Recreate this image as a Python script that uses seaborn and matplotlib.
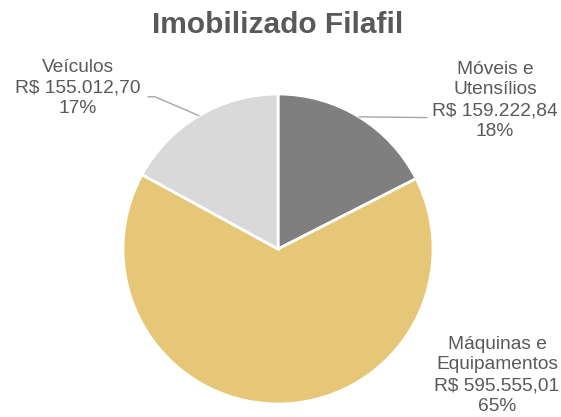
import numpy as np
import matplotlib
matplotlib.use("Agg")
import matplotlib.pyplot as plt
import seaborn as sns

# Imobilizado Filafil - valores em R$
categorias = ['Móveis e\nUtensílios', 'Máquinas e\nEquipamentos', 'Veículos']
valores = [159222.84, 595555.01, 155012.70]
valores_txt = ['R$ 159.222,84', 'R$ 595.555,01', 'R$ 155.012,70']
cores = ['#7f7f7f', '#e6c677', '#d9d9d9']

sns.set_style('white')
plt.rcParams['font.family'] = ['Liberation Sans', 'DejaVu Sans']
cinza = '#595959'

fig = plt.figure(figsize=(5.61, 4.17), dpi=100)
ax = fig.add_axes([0.2193, 0.0312, 0.5526, 0.7434])

wedges, _ = ax.pie(valores, colors=cores, startangle=90, counterclock=False,
                   wedgeprops=dict(edgecolor='white', linewidth=2))
ax.set_xlim(-1, 1)
ax.set_ylim(-1, 1)
ax.set_aspect('equal')
ax.axis('off')

total = sum(valores)
pct = [f"{round(v / total * 100):.0f}%" for v in valores]

# posicao dos rotulos (coord. do eixo, raio = 1)
pos_txt = [(1.40, 0.96), (1.413, -0.815), (-1.29, 1.039)]
for i, w in enumerate(wedges):
    txt = f"{categorias[i]}\n{valores_txt[i]}\n{pct[i]}"
    ax.text(pos_txt[i][0], pos_txt[i][1], txt, ha='center', va='center',
            fontsize=13.8, color=cinza, linespacing=1.28)

# linhas de chamada
def borda(w):
    ang = np.deg2rad((w.theta1 + w.theta2) / 2)
    return np.cos(ang), np.sin(ang)

x0, y0 = borda(wedges[0])
ax.plot([x0, 0.961], [y0, y0 - 0.005], color='#a6a6a6', lw=1, clip_on=False)
x2, y2 = borda(wedges[2])
ax.plot([x2, -0.794, -0.839], [y2, 0.982, 0.982], color='#a6a6a6', lw=1,
        clip_on=False)

fig.text(0.4955, 0.94, 'Imobilizado Filafil', ha='center', va='center',
         fontsize=21.5, fontweight='bold', color=cinza)

fig.savefig('out.png', dpi=100, facecolor='white')
